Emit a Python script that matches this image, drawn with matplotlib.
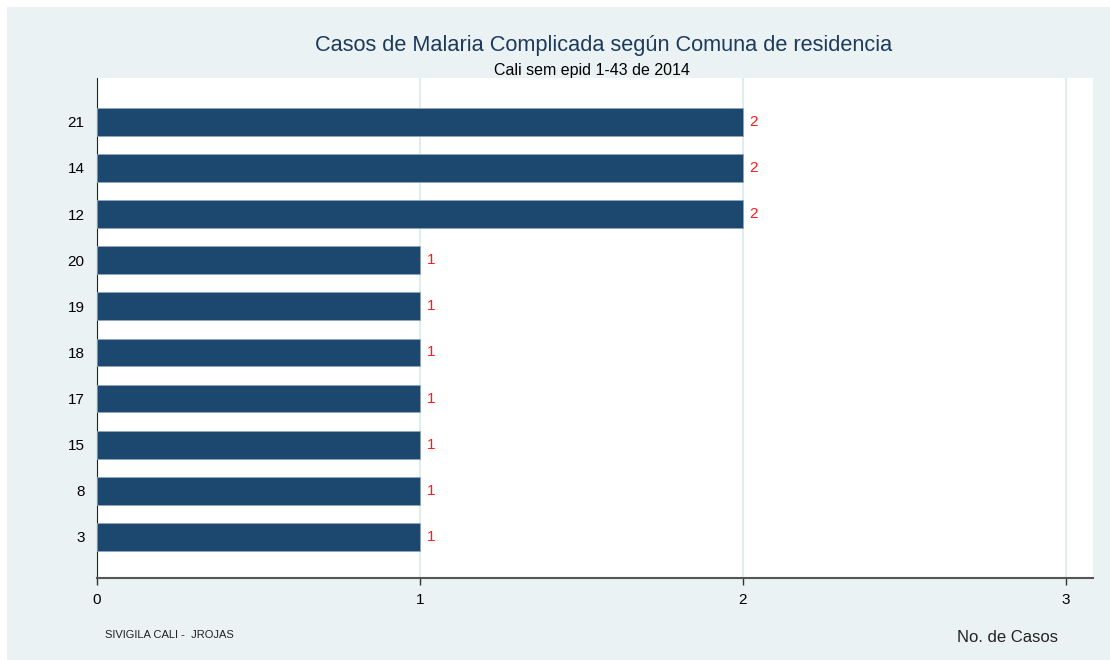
import matplotlib.pyplot as plt
from matplotlib.patches import Rectangle

comunas = ['3', '8', '15', '17', '18', '19', '20', '12', '14', '21']
casos = [1, 1, 1, 1, 1, 1, 1, 2, 2, 2]
xticks = [0, 1, 2, 3]

plt.rcParams['font.family'] = ['Liberation Sans', 'DejaVu Sans']

bg = '#EAF2F3'
fig = plt.figure(figsize=(11.1, 6.6), dpi=100, facecolor='white')
fig.patches.append(Rectangle((7 / 1110, 0), 1, 1 - 7 / 660, transform=fig.transFigure,
                             facecolor=bg, edgecolor='none', zorder=-10))

ax = fig.add_axes([97 / 1110, 1 - 578 / 660, (1093 - 97) / 1110, (578 - 78) / 660])
ax.set_facecolor('white')

pos = list(range(len(comunas)))
bars = ax.barh(pos, casos, height=0.6, color='#1C4870', edgecolor='#8FA6BC',
               linewidth=0.6, zorder=3)
for p, v in zip(pos, casos):
    ax.text(v + 0.02, p, str(v), color='#FF1A1A', fontsize=11, va='center', ha='left')

ax.set_xlim(0, 3.084)
ax.set_ylim(-0.89, 9.95)
ax.set_xticks(xticks)
ax.set_yticks(pos)
ax.set_yticklabels(comunas)
ax.tick_params(axis='y', length=0, pad=9, labelsize=11)
ax.tick_params(axis='x', length=5, width=1, color='#333333', pad=6, labelsize=11)
ax.xaxis.grid(True, color='#E1ECEF', linewidth=1.5, zorder=0)
ax.set_axisbelow(True)

for s in ['top', 'right']:
    ax.spines[s].set_visible(False)
ax.spines['left'].set_color('#222222')
ax.spines['bottom'].set_color('#555555')
ax.spines['bottom'].set_linewidth(1.5)

fig.text(604 / 1110, 1 - 45 / 660, 'Casos de Malaria Complicada según Comuna de residencia',
         ha='center', va='center', fontsize=15.7, color='#1E3A5C')
fig.text(592 / 1110, 1 - 70 / 660, 'Cali sem epid 1-43 de 2014',
         ha='center', va='center', fontsize=11.5, color='black')
fig.text(105 / 1110, 1 - 635 / 660, 'SIVIGILA CALI -  JROJAS',
         ha='left', va='center', fontsize=8, color='#222222')
fig.text(1058 / 1110, 1 - 637 / 660, 'No. de Casos',
         ha='right', va='center', fontsize=12, color='#222222')

fig.savefig('out.png', dpi=100, facecolor=fig.get_facecolor())
